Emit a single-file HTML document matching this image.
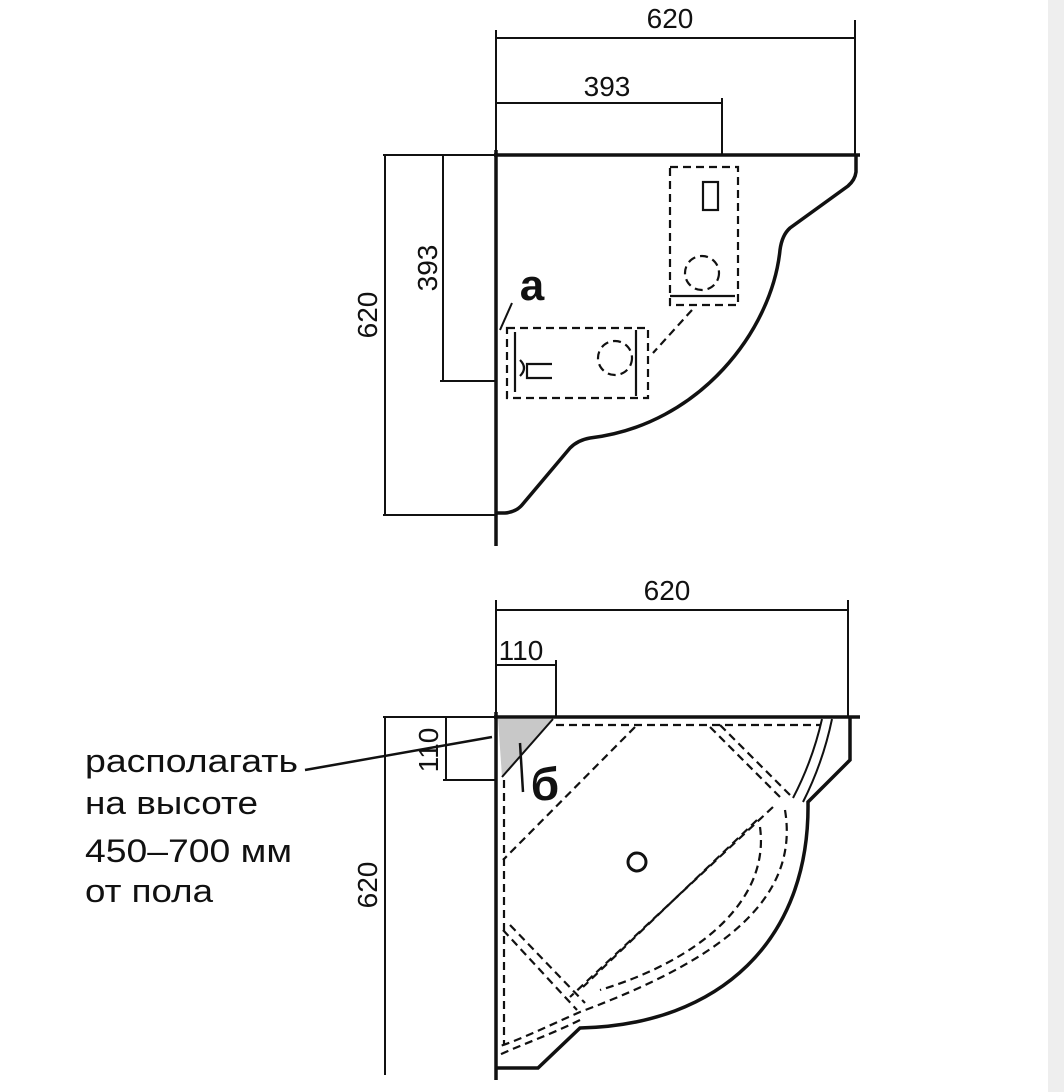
<!DOCTYPE html>
<html><head><meta charset="utf-8"><style>
html,body{margin:0;padding:0;background:#fff;}
svg{display:block;}
text{font-family:"Liberation Sans",Arial,sans-serif;fill:#111;}
</style></head><body>
<svg width="1064" height="1092" viewBox="0 0 1064 1092" xmlns="http://www.w3.org/2000/svg">
<rect x="1048" y="0" width="16" height="1092" fill="#eee"/>
<g stroke="#111" fill="none">
<!-- TOP DRAWING -->
<g stroke-width="2">
<line x1="496" y1="30" x2="496" y2="155"/>
<line x1="855" y1="20" x2="855" y2="155"/>
<line x1="496" y1="38" x2="855" y2="38"/>
<line x1="496" y1="103" x2="722" y2="103"/>
<line x1="722" y1="98" x2="722" y2="155"/>
<line x1="383" y1="155" x2="496" y2="155"/>
<line x1="383" y1="515" x2="496" y2="515"/>
<line x1="385" y1="155" x2="385" y2="515"/>
<line x1="443" y1="155" x2="443" y2="381"/>
<line x1="440" y1="381" x2="496" y2="381"/>
</g>
<line x1="496" y1="150" x2="496" y2="546" stroke-width="3.5"/>
<line x1="494" y1="155" x2="860" y2="155" stroke-width="3.5"/>
<path d="M856 155 L856 172 Q855 180 848 186 L790 228 Q782 235 780 250 C772 330 700 425 590 438 Q578 440 570 448 L522 505 Q516 512 505 513 L496 513" stroke-width="3.5"/>
<g stroke-width="2.2" stroke-dasharray="8,5">
<rect x="670" y="167" width="68" height="138"/>
<circle cx="702" cy="273" r="17"/>
<rect x="507" y="328" width="141" height="70"/>
<circle cx="615" cy="358" r="17"/>
<line x1="692" y1="310" x2="653" y2="353"/>
</g>
<rect x="703" y="182" width="15" height="28" stroke-width="2.2"/>
<line x1="670" y1="296" x2="735" y2="296" stroke-width="2.2"/>
<line x1="636" y1="330" x2="636" y2="396" stroke-width="2.2"/>
<path d="M552 364 L527 364 L527 378 L552 378" stroke-width="2.2"/>
<path d="M515 332 L515 392 M520 360 Q528 368 520 376" stroke-width="2.2"/>
<line x1="500" y1="330" x2="512" y2="303" stroke-width="2"/>

<!-- BOTTOM DRAWING -->
<g stroke-width="2">
<line x1="496" y1="600" x2="496" y2="717"/>
<line x1="848" y1="600" x2="848" y2="717"/>
<line x1="496" y1="610" x2="848" y2="610"/>
<line x1="496" y1="665" x2="556" y2="665"/>
<line x1="556" y1="660" x2="556" y2="717"/>
<line x1="383" y1="717" x2="496" y2="717"/>
<line x1="446" y1="717" x2="446" y2="780"/>
<line x1="443" y1="780" x2="496" y2="780"/>
<line x1="385" y1="717" x2="385" y2="1075"/>
<line x1="305" y1="770" x2="492" y2="737" stroke-width="2.5"/>
</g>
<polygon points="498,719 553,719 502,777" fill="#c8c8c8" stroke="none"/>
<line x1="553" y1="719" x2="502" y2="777" stroke-width="2"/>
<line x1="496" y1="712" x2="496" y2="1080" stroke-width="3.5"/>
<line x1="494" y1="717" x2="860" y2="717" stroke-width="3.5"/>
<path d="M850 717 L850 760 L808 802 C810 940 720 1025 580 1028 L538 1068 L496 1068" stroke-width="3.5"/>
<line x1="520" y1="743" x2="523" y2="792" stroke-width="2.5"/>
<path d="M822 719 A325 325 0 0 1 793 798" stroke-width="2"/>
<path d="M832 719 A335 335 0 0 1 803 802" stroke-width="2"/>
<g stroke-width="2.2" stroke-dasharray="8,5">
<line x1="556" y1="725" x2="820" y2="725"/>
<line x1="504" y1="780" x2="504" y2="1045"/>
<line x1="635" y1="727" x2="503" y2="860"/>
<line x1="773" y1="807" x2="570" y2="997"/>
<line x1="757" y1="820" x2="583" y2="987"/>
<line x1="710" y1="727" x2="780" y2="797"/>
<line x1="720" y1="725" x2="790" y2="795"/>
<line x1="503" y1="930" x2="577" y2="1010"/>
<line x1="510" y1="925" x2="585" y2="1003"/>
<path d="M785 810 C800 900 720 960 580 1012 C550 1025 520 1040 497 1047"/>
<path d="M760 827 C770 900 700 960 600 990"/>
<path d="M580 1020 C550 1035 520 1045 497 1056"/>
</g>
<circle cx="637" cy="862" r="9" stroke-width="3"/>
</g>
<!-- TEXT -->
<text x="670" y="28" font-size="28" text-anchor="middle">620</text>
<text x="607" y="96" font-size="28" text-anchor="middle">393</text>
<text transform="translate(377,315) rotate(-90)" font-size="28" text-anchor="middle">620</text>
<text transform="translate(437,268) rotate(-90)" font-size="28" text-anchor="middle">393</text>
<text x="532" y="300" font-size="44" font-weight="bold" text-anchor="middle">a</text>
<text x="667" y="600" font-size="28" text-anchor="middle">620</text>
<text x="521" y="660" font-size="28" text-anchor="middle">110</text>
<text transform="translate(438,750) rotate(-90)" font-size="28" text-anchor="middle">110</text>
<text transform="translate(377,885) rotate(-90)" font-size="28" text-anchor="middle">620</text>
<text x="545" y="800" font-size="46" font-weight="bold" text-anchor="middle">б</text>
<text font-size="32" x="85" y="772" textLength="213" lengthAdjust="spacingAndGlyphs">располагать</text>
<text font-size="32" x="85" y="814" textLength="173" lengthAdjust="spacingAndGlyphs">на высоте</text>
<text font-size="32" x="85" y="862" textLength="207" lengthAdjust="spacingAndGlyphs">450–700 мм</text>
<text font-size="32" x="85" y="902" textLength="128" lengthAdjust="spacingAndGlyphs">от пола</text>
</svg>
</body></html>
